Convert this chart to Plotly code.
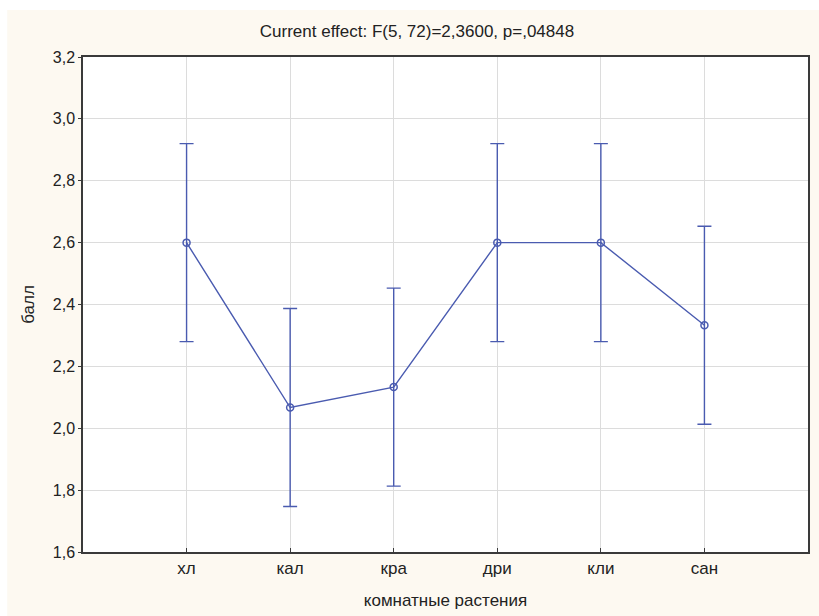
import plotly.graph_objects as go

categories = ["хл", "кал", "кра", "дри", "кли", "сан"]
means = [2.600, 2.067, 2.133, 2.600, 2.600, 2.333]
ci = [0.32, 0.32, 0.32, 0.32, 0.32, 0.32]
y_ticks = [1.6, 1.8, 2.0, 2.2, 2.4, 2.6, 2.8, 3.0, 3.2]

W, H = 819, 616
L, R, T, B = 83, 9, 57, 64  # plot area margins in px

xpos = list(range(len(categories)))
blue = "#4a5bb0"

fig = go.Figure()
fig.add_trace(go.Scatter(
    x=xpos, y=means, mode="lines+markers",
    line=dict(color=blue, width=1.4),
    marker=dict(symbol="circle-open", size=7, color=blue, line=dict(width=1.5)),
    error_y=dict(type="data", array=ci, visible=True, color=blue, thickness=1.4, width=7),
    showlegend=False,
))

pw = W - L - R
ph = H - T - B
# white strips at top and left edges (outside plot area)
fig.add_shape(type="rect", xref="paper", yref="paper", layer="below",
              x0=-L / pw - 0.01, x1=(W - L) / pw + 0.01,
              y0=1 + (T - 10) / ph, y1=1 + T / ph + 0.01,
              fillcolor="white", line=dict(width=0))
fig.add_shape(type="rect", xref="paper", yref="paper", layer="below",
              x0=-L / pw - 0.01, x1=(7 - L) / pw,
              y0=-B / ph - 0.01, y1=1 + T / ph + 0.01,
              fillcolor="white", line=dict(width=0))

fig.update_layout(
    width=W, height=H,
    margin=dict(l=L, r=R, t=T, b=B),
    paper_bgcolor="#fdf9f1",
    plot_bgcolor="white",
    separators=", ",
    font=dict(family="Liberation Sans, Arial, sans-serif", size=16, color="#222222"),
    title=dict(text="Current effect: F(5, 72)=2,3600, p=,04848", x=417 / W, xanchor="center",
               y=1 - 31 / H, yanchor="middle", font=dict(size=17, color="#222222")),
    xaxis=dict(
        range=[-1, 6], tickvals=xpos, ticktext=categories,
        showgrid=True, gridcolor="#dcdcdc", gridwidth=1,
        showline=True, linecolor="#3a3a3a", linewidth=1.5, mirror=True,
        ticks="inside", ticklen=4, tickcolor="#3a3a3a",
        tickfont=dict(size=17),
        zeroline=False,
        title=dict(text="комнатные растения", standoff=17, font=dict(size=17)),
    ),
    yaxis=dict(
        range=[1.6, 3.2], tickvals=y_ticks, tickformat=".1f",
        showgrid=True, gridcolor="#dcdcdc", gridwidth=1,
        showline=True, linecolor="#3a3a3a", linewidth=1.5, mirror=True,
        ticks="outside", ticklen=3, tickcolor="#3a3a3a",
        tickfont=dict(size=16),
        zeroline=False,
        title=dict(text="балл", standoff=14, font=dict(size=17)),
    ),
)

fig.write_html("out.html")
